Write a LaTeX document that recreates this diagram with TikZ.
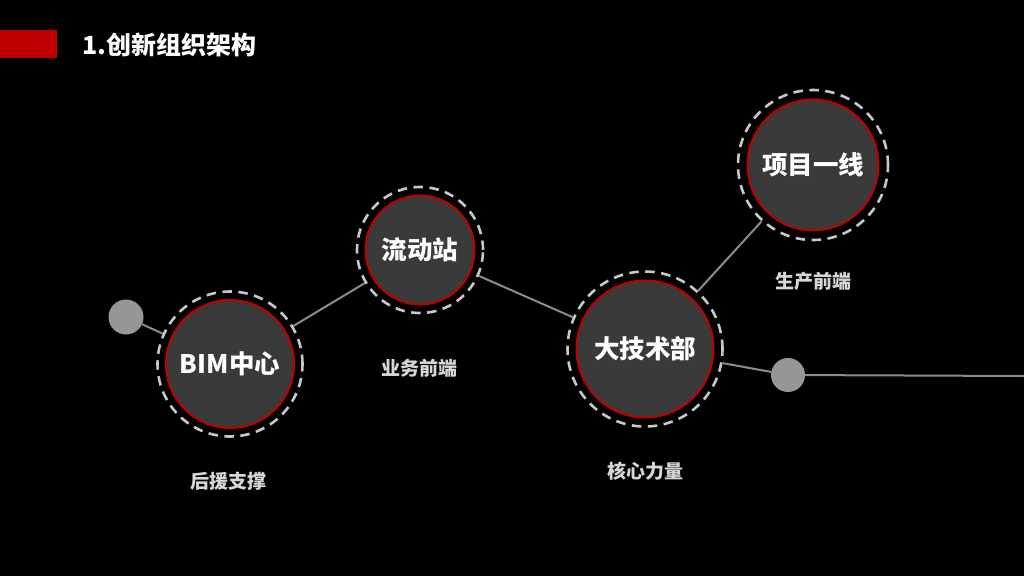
\documentclass[tikz,border=0pt]{standalone}
\usepackage{fontspec}
\setmainfont{Noto Sans CJK SC}
\definecolor{barred}{RGB}{192, 0, 0}
\definecolor{hubgray}{RGB}{58, 58, 58}
\definecolor{ringgray}{RGB}{200, 200, 200}
\definecolor{linkgray}{RGB}{140, 140, 140}
\definecolor{dotgray}{RGB}{150, 150, 150}
\definecolor{taggray}{RGB}{215, 215, 215}
\usetikzlibrary{positioning}
\tikzset{
    hub/.style={circle, draw=barred, line width=2pt, fill=hubgray, inner sep=0pt, font=\fontsize{25.5}{30}\selectfont\bfseries, text=white},
    ring/.style={circle, draw=ringgray, line width=2.6pt, dash pattern=on 9.5pt off 6.5pt, inner sep=0pt},
    dot/.style={circle, fill=dotgray, inner sep=0pt, minimum size=35pt},
    link/.style={draw=linkgray, line width=2pt},
    tag/.style={font=\fontsize{19}{23}\selectfont\bfseries, text=taggray},
}

\begin{document}
\begin{tikzpicture}[x=1pt, y=-1pt]
    \fill[black] (0,0) rectangle (1024,576);
    \useasboundingbox (0,0) rectangle (1024,576);

    % title
    \fill[barred] (0,30) rectangle (57,58);
    \node[anchor=west, text=white, font=\fontsize{25}{30}\selectfont\bfseries, inner sep=0pt] (title) at (82,45) {1.创新组织架构};

    % rings
    \node[ring, minimum size=145pt] (bimring) at (230,364) {};
    \node[ring, minimum size=126pt] (stationring) at (420,250) {};
    \node[ring, minimum size=155pt] (techring) at (645,349) {};
    \node[ring, minimum size=150pt] (projectring) at (813,165) {};

    \node[dot] (leftdot) at (126,317) {};
    \node[dot, minimum size=34pt] (rightdot) at (788,375) {};
    \coordinate (edge) at (1024,376);

    \draw[link] (leftdot) -- (bimring);
    \draw[link] (bimring) -- (stationring);
    \draw[link] (stationring) -- (techring);
    \draw[link] (techring) -- (projectring);
    \draw[link] (techring) -- (rightdot);
    \draw[link] (rightdot) -- (edge);

    % hubs
    \node[hub, minimum size=128pt] (bim) at (230,364) {BIM中心};
    \node[hub, minimum size=109pt] (station) at (420,250) {流动站};
    \node[hub, minimum size=137pt] (tech) at (645,349) {大技术部};
    \node[hub, minimum size=131pt] (project) at (813,165) {项目一线};

    \node[tag] (bimtag) at (228,481) {后援支撑};
    \node[tag] (stationtag) at (419,368) {业务前端};
    \node[tag] (techtag) at (645,471) {核心力量};
    \node[tag] (projecttag) at (813,281) {生产前端};
\end{tikzpicture}
\end{document}
